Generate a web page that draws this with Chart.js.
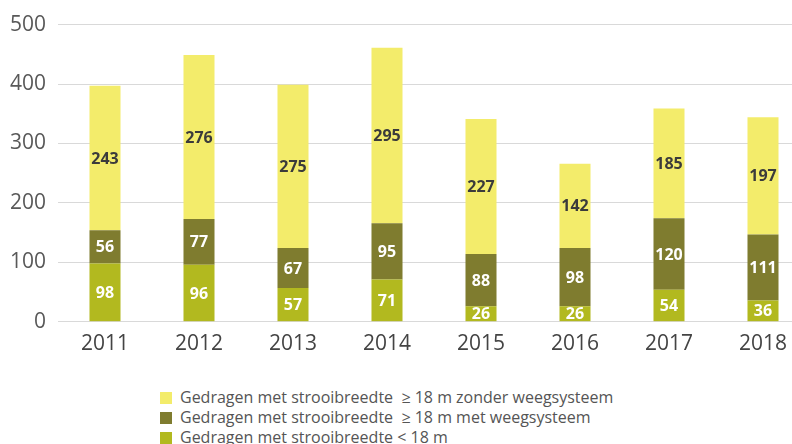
<!DOCTYPE html>
<html>
<head>
<meta charset="utf-8">
<script src="https://cdn.jsdelivr.net/npm/chart.js@4.4.0/dist/chart.umd.min.js"></script>
<style>
  html, body { margin: 0; padding: 0; background: #fff; overflow: hidden; width: 792px; height: 444px; }
  #wrap { position: absolute; left: 0; top: 0; width: 810px; height: 359px; }
  #legend { position: absolute; left: 160px; top: 387px; font-family: "Open Sans", sans-serif; font-size: 16px; color: #555; }
  #legend div { height: 20px; line-height: 20px; white-space: pre; }
  #legend span { display: inline-block; width: 12px; height: 12px; margin-right: 8px; vertical-align: -1px; }
</style>
</head>
<body>
<div id="wrap"><canvas id="grafiek"></canvas></div>
<div id="legend"></div>
<script>
// jaren en waarden
const jaren = ["2011", "2012", "2013", "2014", "2015", "2016", "2017", "2018"];
const kleinerDan18 = [98, 96, 57, 71, 26, 26, 54, 36];
const metWeeg = [56, 77, 67, 95, 88, 98, 120, 111];
const zonderWeeg = [243, 276, 275, 295, 227, 142, 185, 197];
const yTicks = [0, 100, 200, 300, 400, 500];

const labels = [
  "Gedragen met strooibreedte < 18 m",
  "Gedragen met strooibreedte  ≥ 18 m met weegsysteem",
  "Gedragen met strooibreedte  ≥ 18 m zonder weegsysteem",
];
const kleuren = ["#b2b91f", "#7f7c2f", "#f3ec6b"];
const tekstKleur = ["#ffffff", "#ffffff", "#3b3b3b"];

// eigen plugin voor de getallen in de balken
const waardeLabels = {
  id: "waardeLabels",
  afterDatasetsDraw(chart) {
    const ctx = chart.ctx;
    ctx.save();
    ctx.font = "bold 16px 'Open Sans', sans-serif";
    ctx.textAlign = "center";
    ctx.textBaseline = "middle";
    chart.data.datasets.forEach((ds, i) => {
      const meta = chart.getDatasetMeta(i);
      meta.data.forEach((bar, j) => {
        const mid = (bar.y + bar.base) / 2;
        ctx.fillStyle = tekstKleur[i];
        ctx.fillText(String(ds.data[j]), bar.x, mid + 1);
      });
    });
    ctx.restore();
  },
};

const canvas = document.getElementById("grafiek");
new Chart(canvas, {
  type: "bar",
  data: {
    labels: jaren,
    datasets: [
      { label: labels[0], data: kleinerDan18, backgroundColor: kleuren[0] },
      { label: labels[1], data: metWeeg, backgroundColor: kleuren[1] },
      { label: labels[2], data: zonderWeeg, backgroundColor: kleuren[2] },
    ],
  },
  options: {
    responsive: true,
    maintainAspectRatio: false,
    animation: false,
    layout: { padding: { top: 14, left: 0, right: 0, bottom: 0 } },
    datasets: { bar: { barPercentage: 0.33, categoryPercentage: 1 } },
    plugins: {
      legend: { display: false },
      tooltip: { enabled: false },
    },
    scales: {
      x: {
        stacked: true,
        grid: { display: false },
        border: { display: false },
        ticks: { color: "#444", font: { family: "'Open Sans', sans-serif", size: 21 }, padding: 2 },
      },
      y: {
        stacked: true,
        min: 0,
        max: 500,
        afterBuildTicks: (scale) => { scale.ticks = yTicks.map((v) => ({ value: v })); },
        afterFit: (scale) => { scale.width = 58; },
        grid: { color: "#d9d9d9", lineWidth: 1, drawTicks: false },
        border: { display: false },
        ticks: { color: "#595959", font: { family: "'Open Sans', sans-serif", size: 21 }, padding: 12 },
      },
    },
  },
  plugins: [waardeLabels],
});

// legenda, volgorde van boven naar beneden
const legend = document.getElementById("legend");
[2, 1, 0].forEach((i) => {
  const rij = document.createElement("div");
  const blok = document.createElement("span");
  blok.style.background = kleuren[i];
  rij.appendChild(blok);
  rij.appendChild(document.createTextNode(labels[i]));
  legend.appendChild(rij);
});
</script>
</body>
</html>
